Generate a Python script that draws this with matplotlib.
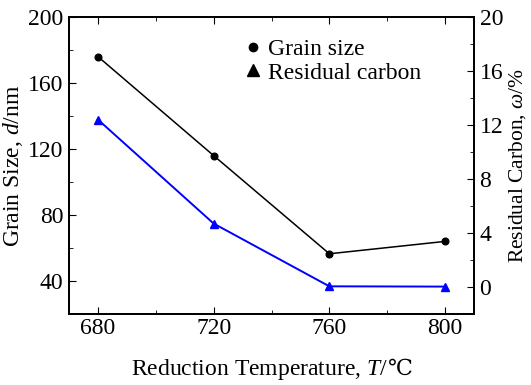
import numpy as np
import matplotlib
matplotlib.use("Agg")
import matplotlib.pyplot as plt
from matplotlib.lines import Line2D

plt.rcParams.update({"font.size": 17,
                     "font.family": ["Liberation Serif", "DejaVu Serif"],
                     "mathtext.fontset": "custom",
                     "mathtext.rm": "Liberation Serif",
                     "mathtext.it": "Liberation Serif:italic"})

# data
temperature = [680, 720, 760, 800]
grainSize = [176, 116, 56.5, 64]          # nm
residualCarbon = [12.4, 4.7, 0.05, 0.03]  # %

W, H = 531, 385
fig = plt.figure(figsize=(W/100, H/100), dpi=100)
ax = fig.add_axes([69/W, 1-314/H, (474-69)/W, (314-17)/H])
ax2 = ax.twinx()

ax.plot(temperature, grainSize, color="black", lw=1.1, marker="o", ms=4.8)
ax2.plot(temperature, residualCarbon, color="blue", lw=1.4, marker="^", ms=5.5)

ax.set_xlim(670, 810)
ax.set_ylim(20, 200)
ax2.set_ylim(-2, 20)
ax.set_xticks([680, 720, 760, 800])
ax.set_xticks([700, 740, 780], minor=True)
ax.set_yticks([40, 80, 120, 160, 200])
ax.set_yticks([60, 100, 140, 180], minor=True)
ax2.set_yticks([0, 4, 8, 12, 16, 20])
ax2.set_yticks([2, 6, 10, 14, 18], minor=True)

ax.tick_params(which="both", direction="in", top=True, labelsize=17)
ax.tick_params(axis="y", pad=4)
ax.tick_params(axis="x", pad=3)
ax.tick_params(which="major", length=5)
ax.tick_params(which="minor", length=3)
ax2.tick_params(which="both", direction="in", labelsize=17, pad=4)
ax2.tick_params(which="major", length=5)
ax2.tick_params(which="minor", length=3)
for a in (ax, ax2):
    for s in a.spines.values():
        s.set_linewidth(1.3)

ax.set_ylabel(r"Grain Size, $d$/nm", fontsize=17, labelpad=2)
ax2.set_ylabel(r"Residual Carbon, $\omega$/%", fontsize=15.5, labelpad=3)

# x label: mathtext part plus the degree-Celsius sign from a fallback font
yb = 1 - 375/H
t1 = fig.text(0, yb, r"Reduction Temperature, $T$/", fontsize=17, va="baseline", ha="left")
t2 = fig.text(0, yb, "℃", fontsize=16, va="baseline", ha="left", family="DejaVu Serif")
fig.canvas.draw()
r = fig.canvas.get_renderer()
w1 = t1.get_window_extent(r).width
w2 = t2.get_window_extent(r).width
x0 = 272 - (w1 + w2)/2
t1.set_x(x0/W)
t2.set_x((x0 + w1)/W)

handles = [Line2D([], [], ls="none", marker="o", color="black", ms=6),
           Line2D([], [], ls="none", marker="^", color="black", ms=8)]
ax.legend(handles, ["Grain size", "Residual carbon"], loc="upper left",
          bbox_to_anchor=(0.378, 1.0), frameon=False, fontsize=17,
          handletextpad=0.25, handlelength=0.8, labelspacing=0.1)

fig.savefig("out.png", dpi=100)
